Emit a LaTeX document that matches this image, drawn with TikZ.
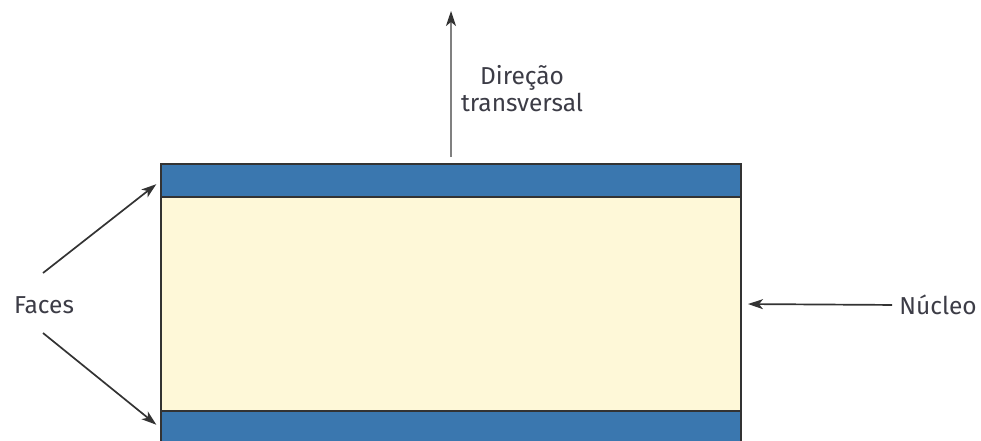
\documentclass[tikz,border=0pt]{standalone}
\usepackage{fontspec}
\setmainfont{Fira Sans}
\usetikzlibrary{arrows.meta, positioning}
\definecolor{faceblue}{HTML}{3A77AF}
\definecolor{corecream}{HTML}{FEF8D8}
\definecolor{textgray}{HTML}{3C3C46}
\definecolor{linegray}{HTML}{333333}

\begin{document}
\begin{tikzpicture}[
    x=1pt, y=-1pt,
    layer/.style={rectangle, draw=linegray, fill=#1, line width=1.8pt,
                  minimum width=580pt, inner sep=0pt, outer sep=0pt},
    tag/.style={font=\fontsize{24.5}{27}\selectfont, text=textgray,
                align=center, inner sep=0pt},
    arrow/.style={-{Stealth[length=15pt, width=10pt, inset=4pt]}, line width=1.7pt, draw=linegray}
]
\useasboundingbox (0,0) rectangle (981,441);

% Sandwich panel: two faces around the core
\node[layer=corecream, minimum height=214pt] at (451,304) (core) {};
\node[layer=faceblue, minimum height=33pt] at (451,180.5) (topface) {};
\node[layer=faceblue, minimum height=35pt] at (451,428.5) (botface) {};

% Labels
\node[tag] at (44,305) (faces) {Faces};
\node[tag] at (938,305) (nucleo) {Núcleo};
\node[tag] at (522,89) (direcao) {Direção\\transversal};

\coordinate (facesUp) at (43,273);
\coordinate (facesDown) at (43,333);
\coordinate (axisTop) at (451,11);

% Connections
\draw[arrow, shorten >=6pt] (facesUp) -- (topface.west);
\draw[arrow, shorten >=6pt] (facesDown) -- (botface.west);
\draw[arrow, shorten <=7pt, shorten >=7pt] (nucleo.west) -- (core.east);
\draw[arrow, draw=gray, -{Stealth[length=15pt, width=10pt, inset=4pt, color=linegray]},
      shorten <=7pt] (topface.north) -- (axisTop);

\end{tikzpicture}
\end{document}
